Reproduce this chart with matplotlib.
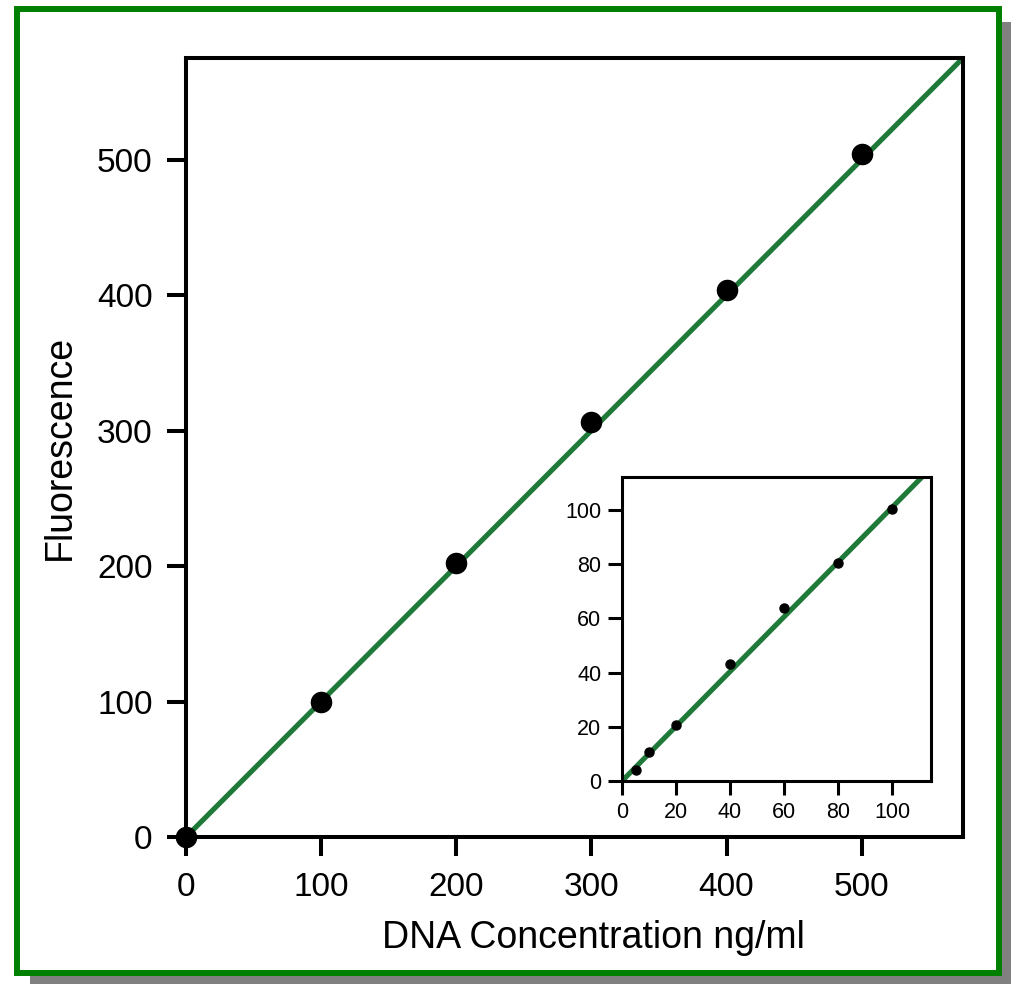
"""DNA concentration vs. fluorescence standard curve, with a low-range inset."""

import matplotlib

matplotlib.use("Agg")
import matplotlib.pyplot as plt
from matplotlib.patches import Rectangle

plt.rcParams["font.family"] = ["Liberation Sans", "DejaVu Sans"]

# main curve (ng/ml -> fluorescence)
main_conc = [0, 100, 200, 300, 400, 500]
main_fluor = [0, 100, 202, 306, 404, 504]
main_ticks = [0, 100, 200, 300, 400, 500]

# low-range inset
inset_conc = [5, 10, 20, 40, 60, 80, 100]
inset_fluor = [4, 10.7, 20.7, 43, 64, 80.3, 100.5]
inset_ticks = [0, 20, 40, 60, 80, 100]

# fitted line
fit_x = [0, 580]
fit_y = [0, 580]
inset_fit_x = [0, 120]
inset_fit_y = [0, 121.2]

LINE_GREEN = "#1f7a3a"
FRAME_GREEN = "#008000"

W, H = 1012, 984
fig = plt.figure(figsize=(W / 100, H / 100), dpi=100)

# drop shadow + green frame
fig.patches.append(
    Rectangle((30 / W, 0), (W - 30) / W, (H - 22) / H, transform=fig.transFigure,
              facecolor="#808080", edgecolor="none", zorder=-10)
)
fig.patches.append(
    Rectangle((17 / W, 1 - 973 / H), 982.5 / W, 964 / H, transform=fig.transFigure,
              facecolor="white", edgecolor=FRAME_GREEN, linewidth=4.3, zorder=-9)
)

# ---- main axes ----
ax = fig.add_axes([186 / W, 1 - 837 / H, 777 / W, 779 / H])
ax.plot(fit_x, fit_y, color=LINE_GREEN, linewidth=3.7, zorder=2)
ax.plot(main_conc, main_fluor, "o", color="black", markersize=14.5, zorder=3, clip_on=False)
ax.set_xlim(0, 575)
ax.set_ylim(0, 575)
ax.set_xticks(main_ticks)
ax.set_yticks(main_ticks)
ax.tick_params(direction="out", length=14, width=2.9, labelsize=24)
ax.tick_params(axis="x", pad=11)
ax.tick_params(axis="y", pad=10)
for sp in ax.spines.values():
    sp.set_linewidth(2.9)
ax.set_xlabel("DNA Concentration ng/ml", fontsize=27)
ax.xaxis.set_label_coords(0.525, -0.107)
ax.set_ylabel("Fluorescence", fontsize=27, labelpad=14)
ax.patch.set_alpha(0)

# ---- inset ----
ins = fig.add_axes([622 / W, 1 - 781 / H, 309 / W, 304 / H])
ins.plot(inset_fit_x, inset_fit_y, color=LINE_GREEN, linewidth=3.7, zorder=2)
ins.plot(inset_conc, inset_fluor, "o", color="black", markersize=6.5, zorder=3)
ins.set_xlim(0, 114.4)
ins.set_ylim(0, 112.2)
ins.set_xticks(inset_ticks)
ins.set_yticks(inset_ticks)
ins.tick_params(direction="out", length=10, width=2.2, labelsize=15.5, pad=5)
for sp in ins.spines.values():
    sp.set_linewidth(2.2)

fig.savefig("out.png", dpi=100)
